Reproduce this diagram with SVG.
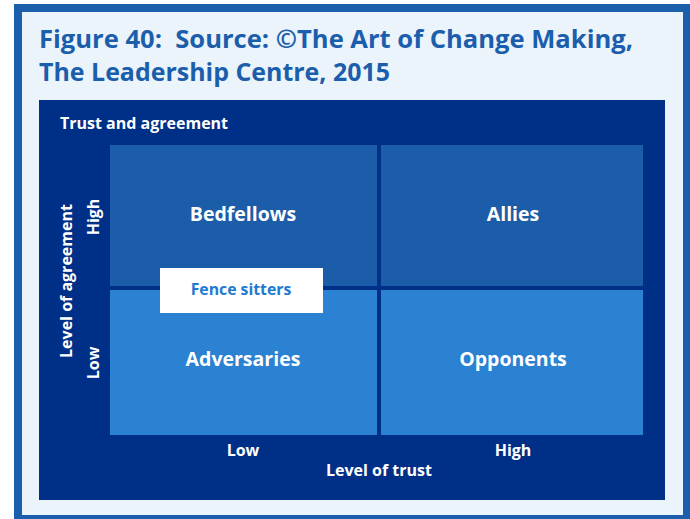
<svg xmlns="http://www.w3.org/2000/svg" width="690" height="519" viewBox="0 0 690 519">
  <style>
    text { font-family: "Open Sans", "Liberation Sans", sans-serif; font-weight: bold; }
    .title { fill: #1B5EAB; font-size: 24.5px; white-space: pre; }
    .w { fill: #FFFFFF; }
    .q { font-size: 19.5px; text-anchor: middle; }
    .ax { font-size: 16px; text-anchor: middle; }
    .hi { fill: #1B5DA9; }
    .lo { fill: #2B81D2; }
  </style>
  <rect x="14" y="4" width="680" height="519" fill="#1B5EAB"/>
  <rect x="22" y="12" width="661" height="503" fill="#EBF3FB"/>
  <g id="title">
    <text class="title" x="39" y="48" textLength="594" lengthAdjust="spacingAndGlyphs" xml:space="preserve">Figure 40:  Source: ©The Art of Change Making,</text>
    <text class="title" x="39" y="81" textLength="351" lengthAdjust="spacingAndGlyphs">The Leadership Centre, 2015</text>
  </g>
  <g id="panel">
    <rect x="39" y="100" width="626" height="400" fill="#002F87"/>
    <text class="w" x="60" y="129" font-size="16">Trust and agreement</text>
  </g>
  <g id="bedfellows">
    <rect class="hi" x="110" y="145" width="267" height="141"/>
    <text class="w q" x="243" y="221">Bedfellows</text>
  </g>
  <g id="allies">
    <rect class="hi" x="381" y="145" width="262" height="141"/>
    <text class="w q" x="513" y="221">Allies</text>
  </g>
  <g id="adversaries">
    <rect class="lo" x="110" y="290" width="267" height="145"/>
    <text class="w q" x="243" y="366">Adversaries</text>
  </g>
  <g id="opponents">
    <rect class="lo" x="381" y="290" width="262" height="145"/>
    <text class="w q" x="513" y="366">Opponents</text>
  </g>
  <g id="fence-sitters">
    <rect x="160" y="268" width="163" height="45" fill="#FFFFFF"/>
    <text x="241" y="295" font-size="15.8" text-anchor="middle" fill="#1F7AD1">Fence sitters</text>
  </g>
  <g id="axis-trust">
    <text class="w ax" x="243" y="456">Low</text>
    <text class="w ax" x="513" y="456">High</text>
    <text class="w ax" x="379" y="476">Level of trust</text>
  </g>
  <g id="axis-agreement">
    <text class="w ax" transform="translate(99,217) rotate(-90)">High</text>
    <text class="w ax" transform="translate(99,363) rotate(-90)">Low</text>
    <text class="w ax" transform="translate(72,281) rotate(-90)">Level of agreement</text>
  </g>
  <g id="connectors"/>
</svg>
